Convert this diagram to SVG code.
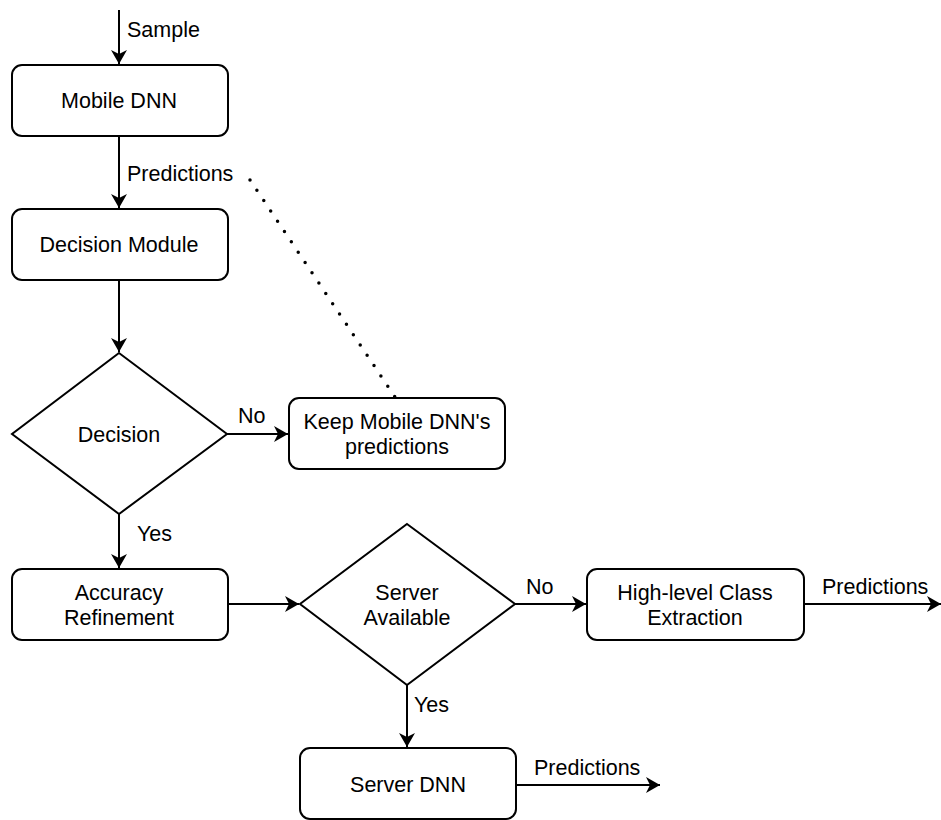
<svg xmlns="http://www.w3.org/2000/svg" width="941" height="820" viewBox="0 0 941 820">
  <defs>
    <style>
      .box { fill: #ffffff; stroke: #000000; stroke-width: 2; }
      .wire { fill: none; stroke: #000000; stroke-width: 2; }
      .dots { fill: none; stroke: #000000; stroke-width: 3.5; stroke-linecap: round; stroke-dasharray: 0 12.4; }
      text { font-family: "Liberation Sans", Arial, sans-serif; font-size: 21.5px; fill: #000000; }
      .c { text-anchor: middle; }
    </style>
    <marker id="arrow" markerUnits="userSpaceOnUse" markerWidth="16" markerHeight="18" refX="14" refY="8" orient="auto">
      <path d="M0,0 L14,8 L0,16 L4,8 Z" fill="#000000"/>
    </marker>
  </defs>

  <!-- connectors -->
  <g id="connectors">
    <line class="wire" x1="119" y1="10" x2="119" y2="64" marker-end="url(#arrow)"/>
    <text x="127" y="37">Sample</text>

    <line class="wire" x1="119" y1="136" x2="119" y2="208" marker-end="url(#arrow)"/>
    <text x="127" y="181">Predictions</text>

    <line class="dots" x1="250" y1="180" x2="395" y2="397"/>

    <line class="wire" x1="119" y1="280" x2="119" y2="352" marker-end="url(#arrow)"/>

    <line class="wire" x1="227" y1="434" x2="288" y2="434" marker-end="url(#arrow)"/>
    <text x="238" y="423">No</text>

    <line class="wire" x1="119" y1="514" x2="119" y2="568" marker-end="url(#arrow)"/>
    <text x="137" y="541">Yes</text>

    <line class="wire" x1="228" y1="604" x2="299" y2="604" marker-end="url(#arrow)"/>

    <line class="wire" x1="515" y1="604" x2="586" y2="604" marker-end="url(#arrow)"/>
    <text x="526" y="594">No</text>

    <line class="wire" x1="804" y1="604" x2="941" y2="604" marker-end="url(#arrow)"/>
    <text x="822" y="594">Predictions</text>

    <line class="wire" x1="407" y1="685" x2="407" y2="747" marker-end="url(#arrow)"/>
    <text x="414" y="712">Yes</text>

    <line class="wire" x1="516" y1="785" x2="660" y2="785" marker-end="url(#arrow)"/>
    <text x="534" y="775">Predictions</text>
  </g>

  <g id="mobile-dnn">
    <rect class="box" x="12" y="65" width="216" height="71" rx="10"/>
    <text class="c" x="119" y="108">Mobile DNN</text>
  </g>

  <g id="decision-module">
    <rect class="box" x="12" y="209" width="216" height="71" rx="10"/>
    <text class="c" x="119" y="252">Decision Module</text>
  </g>

  <g id="decision">
    <path class="box" d="M119,353 L227,434 L119,514 L12,434 Z"/>
    <text class="c" x="119" y="442">Decision</text>
  </g>

  <g id="keep-predictions">
    <rect class="box" x="289" y="398" width="216" height="71" rx="10"/>
    <text class="c" x="397" y="429">Keep Mobile DNN's</text>
    <text class="c" x="397" y="454">predictions</text>
  </g>

  <g id="accuracy-refinement">
    <rect class="box" x="12" y="569" width="216" height="71" rx="10"/>
    <text class="c" x="119" y="600">Accuracy</text>
    <text class="c" x="119" y="625">Refinement</text>
  </g>

  <g id="server-available">
    <path class="box" d="M407,524 L515,604 L407,685 L300,604 Z"/>
    <text class="c" x="407" y="600">Server</text>
    <text class="c" x="407" y="625">Available</text>
  </g>

  <g id="class-extraction">
    <rect class="box" x="587" y="569" width="217" height="71" rx="10"/>
    <text class="c" x="695" y="600">High-level Class</text>
    <text class="c" x="695" y="625">Extraction</text>
  </g>

  <g id="server-dnn">
    <rect class="box" x="300" y="748" width="216" height="71" rx="10"/>
    <text class="c" x="408" y="792">Server DNN</text>
  </g>
</svg>
